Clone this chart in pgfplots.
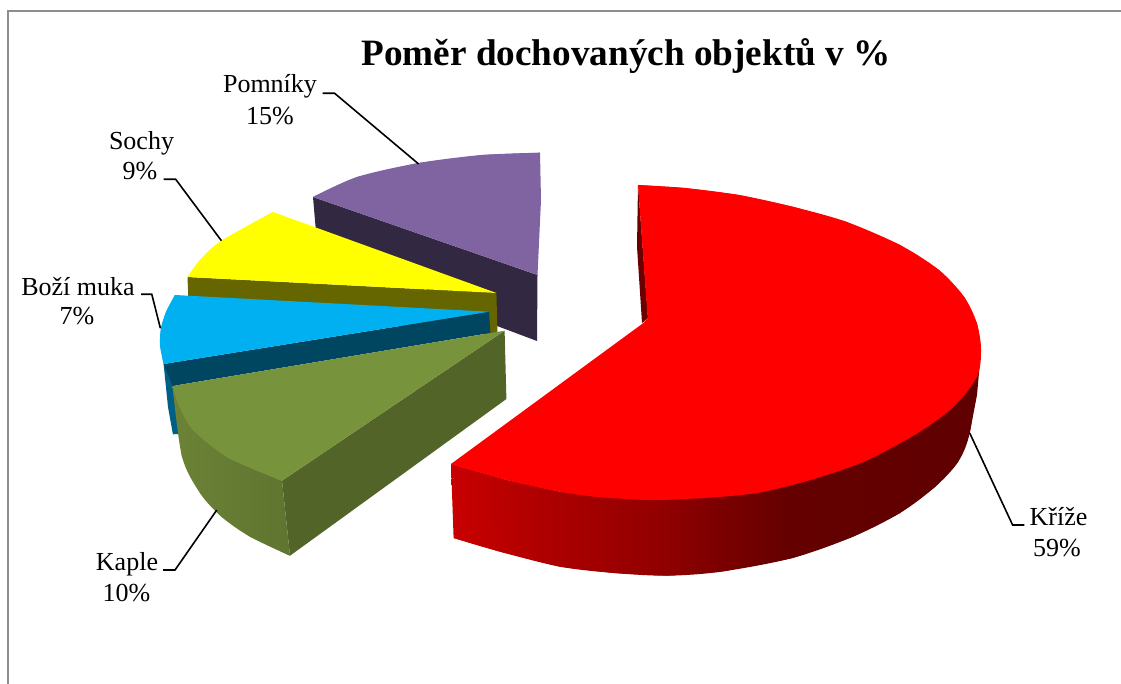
\documentclass[border=0pt]{standalone}
\usepackage{pgfplots}
\pgfplotsset{compat=1.18}
\usepackage{fontspec}
\setmainfont{Liberation Serif}
\definecolor{frameg}{HTML}{8E8E8E}
\definecolor{redtop}{HTML}{FF0000}
\definecolor{redin}{HTML}{6A0000}
\definecolor{purtop}{HTML}{8064A2}
\definecolor{purwall}{HTML}{332841}
\definecolor{yeltop}{HTML}{FFFF00}
\definecolor{yelwall}{HTML}{666600}
\definecolor{blutop}{HTML}{00B0F0}
\definecolor{bluwall}{HTML}{004660}
\definecolor{bluout}{HTML}{005F85}
\definecolor{grntop}{HTML}{77933C}
\definecolor{grnwall}{HTML}{526428}
\definecolor{ra}{HTML}{C80000}
\definecolor{rb}{HTML}{AA0000}
\definecolor{rc}{HTML}{900000}
\definecolor{rd}{HTML}{750000}
\definecolor{re}{HTML}{640000}
\definecolor{rf}{HTML}{600000}
\definecolor{ga}{HTML}{6C8236}
\definecolor{gb}{HTML}{5F7530}
\pgfdeclarehorizontalshading{redwall}{100bp}{color(0bp)=(ra); color(25bp)=(ra); color(35bp)=(rb); color(45bp)=(rc); color(52bp)=(rd); color(57bp)=(re); color(75bp)=(rf); color(100bp)=(rf)}
\pgfdeclarehorizontalshading{grnarc}{100bp}{color(0bp)=(ga); color(25bp)=(ga); color(75bp)=(gb); color(100bp)=(gb)}
\newcommand{\lab}[3]{\node[anchor=base,inner sep=0pt,font=\fontsize{26}{30}\selectfont] at (axis cs:#1,#2) {#3};}
\begin{document}
\begin{tikzpicture}
\begin{axis}[
  width=1121pt,height=684pt,scale only axis,
  xmin=0,xmax=1121,ymin=0,ymax=684,y dir=reverse,hide axis,clip=true]
\addplot[fill=white,draw=none] coordinates {(0,0)(1121,0)(1121,684)(0,684)} --cycle;
\addplot[frameg,line width=1.5pt] coordinates {(8,684)(8,11)(1121,11)};
% Pomniky
\addplot[fill=purwall,draw=none] coordinates {(313,197)(537.5,275)(537,341)(497,326)(316,232)} --cycle;
\addplot[fill=purtop,draw=none] coordinates {(313,197)(357,177)(418.6,163)(482,155)(540,152.7)(541,200)(537.5,275)} --cycle;
\addplot[smooth,fill=purtop,draw=none] coordinates {(313,197)(357,177)(418.6,163)(482,155)(540,152.7)};
% Sochy
\addplot[fill=yelwall,draw=none] coordinates {(187.5,277)(496.4,293)(497.5,335)(188.6,305)} --cycle;
\addplot[fill=yeltop,draw=none] coordinates {(273,212)(221,241)(200,260)(187.5,277)(496.4,293)} --cycle;
\addplot[smooth,fill=yeltop,draw=none] coordinates {(273,212)(221,241)(200,260)(187.5,277)};
% Bozi muka
\addplot[fill=bluout,draw=none] coordinates {(163.6,364)(168,407)(172.9,434.3)(180,434)(175,380)} --cycle;
\addplot[fill=bluwall,draw=none] coordinates {(163.6,364)(489,311.7)(490.4,333)(172.5,386)} --cycle;
\addplot[fill=blutop,draw=none] coordinates {(175,295)(166,312)(161,328)(160,345)(163.6,364)(489,311.7)} --cycle;
\addplot[smooth,fill=blutop,draw=none] coordinates {(175,295)(166,312)(161,328)(160,345)(163.6,364)};
% Kaple
\addplot[fill=grnwall,draw=none] coordinates {(504.6,330.7)(506.4,399)(290,555.7)(282,480.7)} --cycle;
\addplot[shading=grnarc,draw=none] coordinates {(172.5,386)(182,456.7)(200,493)(221.4,516.7)(250,536.7)(290,555.7)(282,480.7)(228.6,458)(193,430)(178.6,405)} --cycle;
\addplot[smooth,shading=grnarc,draw=none] coordinates {(172.5,386)(182,456.7)(200,493)(221.4,516.7)(250,536.7)(290,555.7)};
\addplot[fill=grntop,draw=none] coordinates {(172.5,386)(504.6,330.7)(282,480.7)(228.6,458)(193,430)(178.6,405)} --cycle;
\addplot[smooth,fill=grntop,draw=none] coordinates {(282,480.7)(228.6,458)(193,430)(178.6,405)(172.5,386)};
% Krize
\addplot[fill=redin,draw=none] coordinates {(638,185)(637,246.7)(642,323)(648,318)} --cycle;
\addplot[shading=redwall,draw=none] coordinates {(981,350)(977,395)(969.7,433)(958,462)(935,487)(900,513)(853,536.7)(792.6,558)(721,571.7)(667,575.7)(613.7,573)(560,566.7)(500,551.7)(453.6,538)(451,464)(507,480)(560,491.7)(649.4,500)(810.4,480)} --cycle;
\addplot[smooth,shading=redwall,draw=none] coordinates {(981,350)(978,372)(969.7,433)(958,462)(935,487)(900,513)(853,536.7)(792.6,558)(721,571.7)(667,575.7)(613.7,573)(560,566.7)(500,551.7)(453.6,538)};
\addplot[fill=redtop,draw=none] coordinates {(638,185)(685,188)(739,195)(792.6,206.7)(846,221.7)(900,245)(939,270)(964,296.7)(976.8,323)(981,350)(977,376.7)(953.6,406.7)(917.8,433)(864,461.7)(810.4,480)(756.8,493)(703,498)(649.4,500)(595.8,496.7)(560,491.7)(507,480)(451,464)(643,323.3)(647.7,318.3)} --cycle;
\addplot[smooth,fill=redtop,draw=none] coordinates {(638,185)(685,188)(739,195)(792.6,206.7)(846,221.7)(900,245)(939,270)(964,296.7)(976.8,323)(981,350)(977,376.7)};
\addplot[smooth,fill=redtop,draw=none] coordinates {(976.8,323)(981,350)(977,376.7)(953.6,406.7)(917.8,433)(864,461.7)(810.4,480)(756.8,493)(703,498)(649.4,500)(595.8,496.7)(560,491.7)(507,480)(451,464)};
% leaders
\addplot[black,line width=1.6pt] coordinates {(322.5,93.3)(334.6,93.3)(418.6,164)};
\addplot[black,line width=1.6pt] coordinates {(163.6,179.3)(175.7,179.3)(221.4,240.7)};
\addplot[black,line width=1.6pt] coordinates {(141,294.3)(151.8,294.3)(160.4,328.3)};
\addplot[black,line width=1.6pt] coordinates {(163,570)(175,570)(216.8,510)};
\addplot[black,line width=1.6pt] coordinates {(969.7,433)(1012.6,525)(1024.4,525)};
% text
\node[anchor=base,inner sep=0pt,font=\fontsize{37.2}{42}\selectfont\bfseries] at (axis cs:626,66) {Poměr dochovaných objektů v \%};
\lab{270}{93}{Pomníky}
\lab{270}{124.5}{15\%}
\lab{141.5}{150}{Sochy}
\lab{140}{180}{9\%}
\lab{78}{296}{Boží muka}
\lab{77}{325}{7\%}
\lab{127}{570}{Kaple}
\lab{126.5}{601}{10\%}
\lab{1058.5}{525}{Kříže}
\lab{1057}{556}{59\%}
\end{axis}
\end{tikzpicture}
\end{document}
